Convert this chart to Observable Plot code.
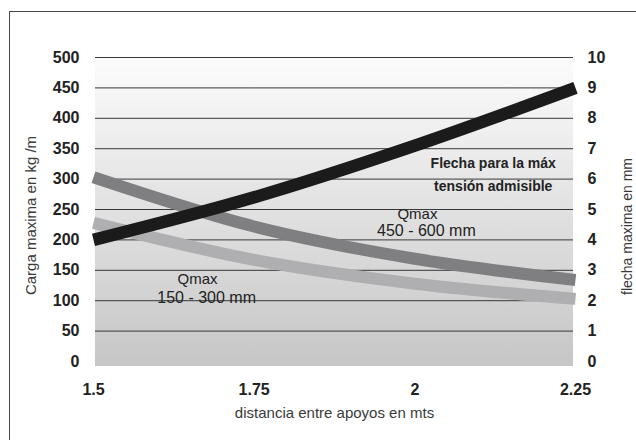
<!DOCTYPE html>
<html>
<head>
<meta charset="utf-8">
<script src="https://cdn.jsdelivr.net/npm/d3@7"></script>
<script src="https://cdn.jsdelivr.net/npm/@observablehq/plot@0.6"></script>
<style>
  html, body { margin: 0; padding: 0; background: #fff; }
  #wrap { position: relative; width: 636px; height: 440px; overflow: hidden; }
  #border { position: absolute; left: 9px; top: 11px; width: 700px; height: 500px;
            border-top: 1.5px solid #4a4a4a; border-left: 1.5px solid #4a4a4a; pointer-events: none; }
  #wrap svg { position: absolute; left: 0; top: 0; }
</style>
</head>
<body>
<div id="wrap"><div id="border"></div></div>
<script>
// Data
const distancias = [1.5, 1.75, 2, 2.25];                 // distancia entre apoyos (m)
const qmax450_600 = [303, 222, 169, 134];                // Qmax 450 - 600 mm (kg/m)
const qmax150_300 = [228, 167, 128, 103];                // Qmax 150 - 300 mm (kg/m)
const flecha = [4.0, 5.4, 7.1, 9.0];                     // flecha (mm), right axis
const ticksIzq = [0, 50, 100, 150, 200, 250, 300, 350, 400, 450, 500];
const ticksDer = [0, 1, 2, 3, 4, 5, 6, 7, 8, 9, 10];
const ticksX = [1.5, 1.75, 2, 2.25];
const factorDer = 50; // 10 mm on the right axis = 500 kg/m on the left axis

const notas = [
  {t: "Flecha para la máx", x: 2.122, y: 326, w: "bold", s: 14},
  {t: "tensión admisible", x: 2.122, y: 288, w: "bold", s: 14},
  {t: "Qmax", x: 2.004, y: 243, w: "normal", s: 15},
  {t: "450 - 600 mm", x: 2.018, y: 215.5, w: "normal", s: 16},
  {t: "Qmax", x: 1.662, y: 135, w: "normal", s: 15},
  {t: "150 - 300 mm", x: 1.676, y: 105, w: "normal", s: 16}
];

const serie = (vals, name) => distancias.map((d, i) => ({x: d, y: vals[i], s: name}));
const dOscuro = serie(qmax450_600, "450-600");
const dClaro = serie(qmax150_300, "150-300");
const dFlecha = distancias.map((d, i) => ({x: d, y: flecha[i] * factorDer}));

const defs = () => {
  const g = d3.create("svg:defs");
  const lg = g.append("linearGradient").attr("id", "bgGrad")
    .attr("x1", 0).attr("y1", 0).attr("x2", 0).attr("y2", 1);
  lg.append("stop").attr("offset", "0%").attr("stop-color", "#fcfcfc");
  lg.append("stop").attr("offset", "100%").attr("stop-color", "#c6c6c7");
  return g.node();
};

const notaMark = (n) => Plot.text([n], {x: "x", y: "y", text: "t", fontSize: n.s, fontWeight: n.w, fill: "#222"});

const chart = Plot.plot({
  width: 636,
  height: 440,
  marginLeft: 93,
  marginRight: 61,
  marginTop: 57,
  marginBottom: 79,
  style: {fontFamily: "'Liberation Sans', Arial, sans-serif", background: "transparent", color: "#222"},
  x: {domain: [1.5, 2.25]},
  y: {domain: [0, 500]},
  marks: [
    defs,
    Plot.rect([0], {x1: () => 1.5, x2: () => 2.25, y1: () => 0, y2: () => 500,
      fill: "url(#bgGrad)", insetLeft: 2, insetRight: 2, insetBottom: -5}),
    Plot.ruleY(ticksIzq.filter(d => d > 0), {stroke: "#383838", strokeWidth: 1, insetLeft: 2, insetRight: 2}),
    Plot.line(dClaro, {x: "x", y: "y", stroke: "#afafb1", strokeWidth: 12, curve: "monotone-x", strokeLinecap: "butt"}),
    Plot.line(dOscuro, {x: "x", y: "y", stroke: "#7f7f82", strokeWidth: 12, curve: "monotone-x", strokeLinecap: "butt"}),
    Plot.line(dFlecha, {x: "x", y: "y", stroke: "#1b1b1b", strokeWidth: 12.5, curve: "monotone-x", strokeLinecap: "butt"}),
    ...notas.map(notaMark),
    Plot.axisY(ticksIzq, {anchor: "left", tickSize: 0, tickPadding: 14, fontSize: 16, fontWeight: "bold", label: null, tickFormat: d => String(d)}),
    Plot.axisY(ticksDer.map(d => d * factorDer), {anchor: "right", tickSize: 0, tickPadding: 12, fontSize: 16, fontWeight: "bold", label: null, tickFormat: d => String(d / factorDer)}),
    Plot.axisX(ticksX, {anchor: "bottom", tickSize: 0, tickPadding: 22, fontSize: 16, fontWeight: "bold", label: null, tickFormat: d => String(d)}),
    Plot.text(["distancia entre apoyos en mts"], {frameAnchor: "bottom", dy: 56, fontSize: 15, fill: "#3a3a3a"}),
    Plot.text(["Carga maxima en kg /m"], {frameAnchor: "left", textAnchor: "middle", rotate: -90, dx: -62, dy: 6, fontSize: 15, fill: "#3a3a3a"}),
    Plot.text(["flecha maxima en mm"], {frameAnchor: "right", textAnchor: "middle", rotate: -90, dx: 52, dy: 17, fontSize: 14, fill: "#3a3a3a"})
  ]
});
document.getElementById("wrap").prepend(chart);
</script>
</body>
</html>
